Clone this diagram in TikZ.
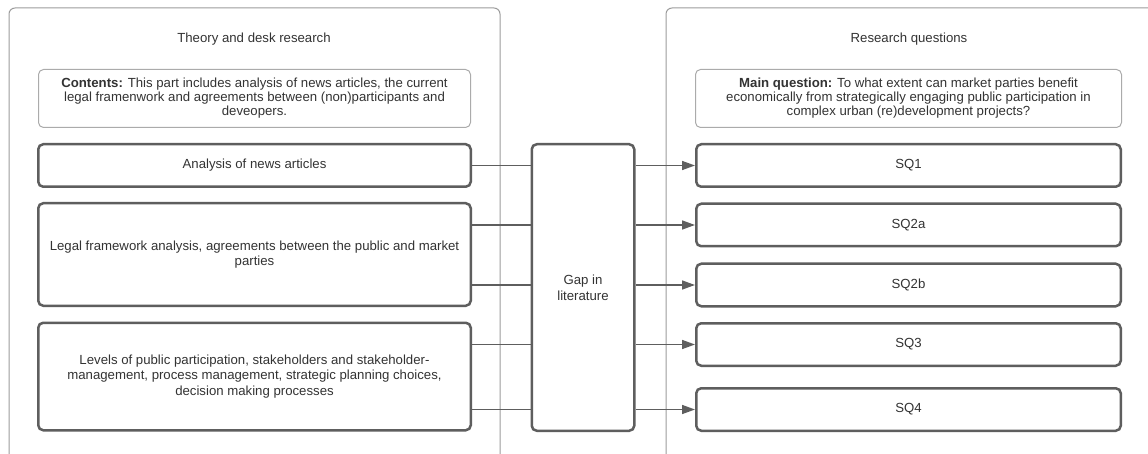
\documentclass[tikz,border=0pt]{standalone}
\usepackage{fontspec}
\setmainfont{Liberation Sans}
\usetikzlibrary{arrows.meta}

\definecolor{textgray}{HTML}{333333}
\definecolor{boxgray}{HTML}{5E5E5E}
\definecolor{panelgray}{HTML}{9C9C9C}
\definecolor{notegray}{HTML}{ABABAB}

\tikzset{
  every node/.style={text=textgray, font=\fontsize{13.2}{15}\selectfont, inner sep=0pt},
  panel/.style={draw=panelgray, line width=1pt, rounded corners=6pt, minimum width=#1},
  panel/.default=490pt,
  note/.style={draw=notegray, line width=1pt, rounded corners=5pt, fill=white,
               align=center, font=\fontsize{13.2}{14}\selectfont},
  block/.style={draw=boxgray, line width=2.5pt, rounded corners=5pt, fill=white,
                align=center, font=\fontsize{13.2}{15.8}\selectfont},
  link/.style={draw=boxgray, line width=1.5pt},
  arrow/.style={link, -{Triangle[length=13pt,width=9pt]}}
}

\begin{document}
\begin{tikzpicture}[x=1pt,y=-1pt]
  \clip (0,0) rectangle (1148,454);
  \fill[white] (0,0) rectangle (1148,454);

  % the two column panels
  \node[panel=491pt, minimum height=480pt, anchor=north west] (panelL) at (8.5,7.5) {};
  \node[panel=520pt, minimum height=480pt, anchor=north west] (panelR) at (665.5,7.5) {};
  \node (titleL) at (254,39) {Theory and desk research};
  \node (titleR) at (909,39) {Research questions};

  % left column: theory and desk research
  \node[note, minimum width=432pt, minimum height=58pt] (contents) at (254.5,98.5)
    {\textbf{Contents:} This part includes analysis of news articles, the current\\
     legal framenwork and agreements between (non)participants and\\
     deveopers.};
  \node[block, minimum width=432.5pt, minimum height=42.5pt] (news) at (254.5,165.5)
    {Analysis of news articles};
  \node[block, minimum width=432.5pt, minimum height=102.5pt] (legal) at (254.5,254.5)
    {Legal framework analysis, agreements between the public and market\\ parties};
  \node[block, minimum width=432.5pt, minimum height=107.5pt] (levels) at (254.5,376.5)
    {Levels of public participation, stakeholders and stakeholder-\\
     management, process management, strategic planning choices,\\
     decision making processes};

  % centre: gap in literature
  \node[block, minimum width=102.5pt, minimum height=286.5pt] (gap) at (583,287.5)
    {Gap in\\ literature};

  % right column: research questions
  \node[note, minimum width=426pt, minimum height=58pt] (mainq) at (908.5,98.5)
    {\textbf{Main question:} To what extent can market parties benefit\\
     economically from strategically engaging public participation in\\
     complex urban (re)development projects?};
  \node[block, minimum width=424.5pt, minimum height=42.5pt] (sq1)  at (908.5,165.5) {SQ1};
  \node[block, minimum width=424.5pt, minimum height=42.5pt] (sq2a) at (908.5,225)   {SQ2a};
  \node[block, minimum width=424.5pt, minimum height=42.5pt] (sq2b) at (908.5,285)   {SQ2b};
  \node[block, minimum width=424.5pt, minimum height=42.5pt] (sq3)  at (908.5,344.5) {SQ3};
  \node[block, minimum width=424.5pt, minimum height=42.5pt] (sq4)  at (908.5,409.5) {SQ4};

  % inputs into the gap
  \draw[link] (news.east)            -- (gap.west |- sq1.west);
  \draw[link] (legal.east |- sq2a.west)  -- (gap.west |- sq2a.west);
  \draw[link] (legal.east |- sq2b.west)  -- (gap.west |- sq2b.west);
  \draw[link] (levels.east |- sq3.west)  -- (gap.west |- sq3.west);
  \draw[link] (levels.east |- sq4.west)  -- (gap.west |- sq4.west);

  % outputs to the sub-questions
  \draw[arrow] (gap.east |- sq1.west)  -- (sq1.west);
  \draw[arrow] (gap.east |- sq2a.west) -- (sq2a.west);
  \draw[arrow] (gap.east |- sq2b.west) -- (sq2b.west);
  \draw[arrow] (gap.east |- sq3.west)  -- (sq3.west);
  \draw[arrow] (gap.east |- sq4.west)  -- (sq4.west);
\end{tikzpicture}
\end{document}
